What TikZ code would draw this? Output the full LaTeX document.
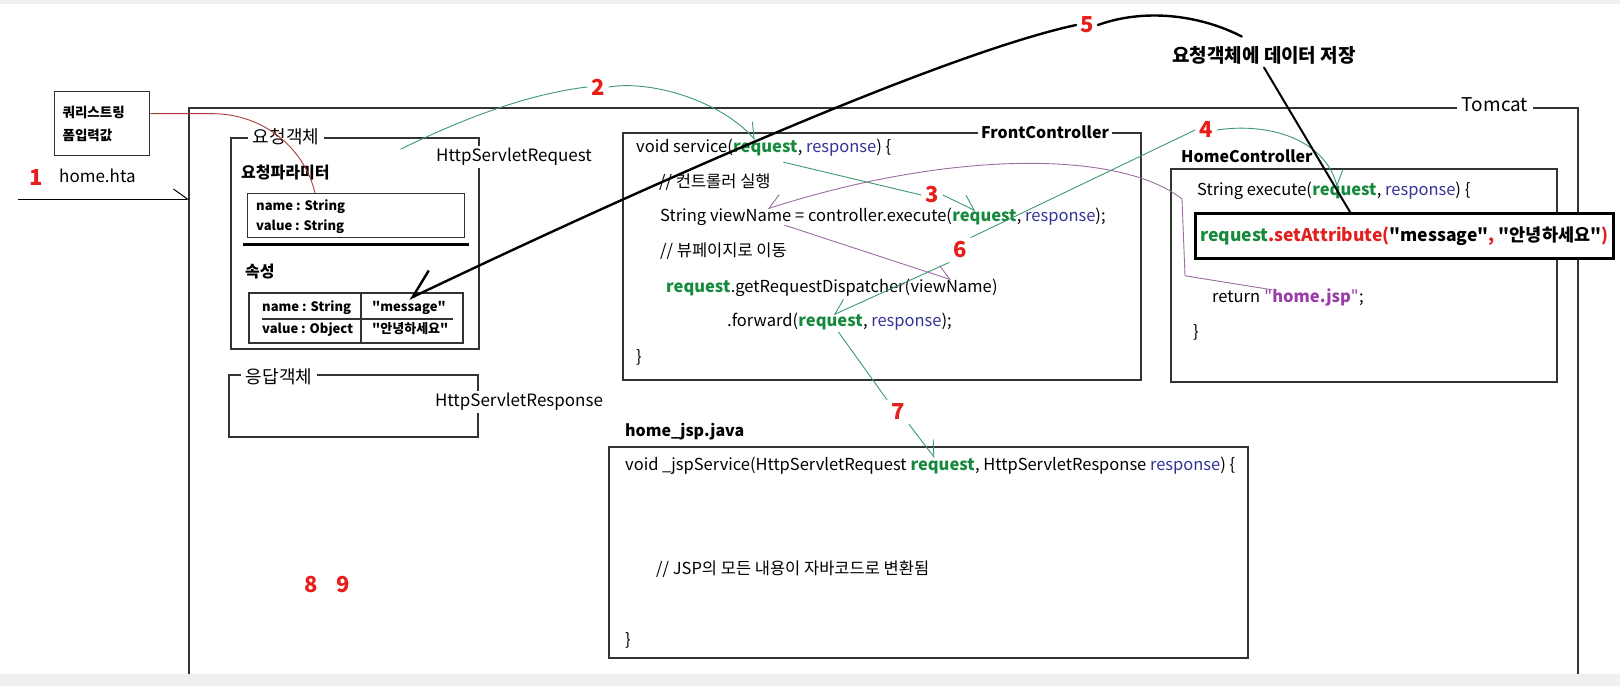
\documentclass[tikz,border=0pt]{standalone}
\usepackage{fontspec}
\setmainfont{Noto Sans CJK KR}[Ligatures=TeXOff]
\usetikzlibrary{arrows.meta,positioning,calc}
\definecolor{reqGreen}{RGB}{22,138,60}
\definecolor{resBlue}{RGB}{52,52,150}
\definecolor{numRed}{RGB}{232,30,26}
\definecolor{attrRed}{RGB}{226,32,32}
\definecolor{jspPurple}{RGB}{152,62,166}
\definecolor{linkGreen}{RGB}{60,152,118}
\definecolor{linkPurple}{RGB}{156,110,162}
\definecolor{linkRed}{RGB}{176,60,60}
\definecolor{frameGray}{RGB}{50,50,50}
\definecolor{bandGray}{RGB}{240,240,240}
\newcommand{\codefont}{\fontsize{16.5}{20}\selectfont}
\newcommand{\labelfont}{\fontsize{17}{20}\selectfont}
\newcommand{\boxtitlefont}{\fontsize{18}{22}\selectfont}
\newcommand{\headfont}{\fontsize{16}{20}\selectfont\bfseries}
\newcommand{\cellfont}{\fontsize{13}{16}\selectfont\bfseries}
\newcommand{\numfont}{\fontsize{22}{24}\selectfont\bfseries}
\newcommand{\reqword}{\textcolor{reqGreen}{\textbf{request}}}
\newcommand{\resword}{\textcolor{resBlue}{response}}

\begin{document}
\begin{tikzpicture}[x=1pt, y=-1pt,
  frame/.style={draw=frameGray, line width=1.3pt},
  code/.style={anchor=west, inner sep=0pt, text height=12pt, text depth=4pt, font=\codefont},
  title/.style={fill=white, inner xsep=5pt, inner ysep=2pt},
  num/.style={text=numRed, font=\numfont, inner sep=4pt},
  glink/.style={draw=linkGreen, line width=0.9pt, line cap=round},
  plink/.style={draw=linkPurple, line width=0.9pt, line cap=round},
  tipl/.style={-{Straight Barb[harpoon, length=14pt, width=20pt]}},
  tipr/.style={-{Straight Barb[harpoon, swap, length=14pt, width=20pt]}}
]
  \useasboundingbox (0,0) rectangle (1620,686);
  \fill[white] (0,0) rectangle (1620,686);
  \fill[bandGray] (0,0) rectangle (1620,4);

  \draw[frame] (189,674) -- (189,108) -- (1578,108) -- (1578,674);
  \node[title, font=\fontsize{19}{22}\selectfont] (tomcat) at (1495,105) {Tomcat};

  \node[frame, anchor=north west, minimum width=95pt, minimum height=64pt, text width=79pt,
        inner xsep=8pt, align=left, font=\fontsize{13.5}{23}\selectfont\bfseries] (qbox) at (54,91) {쿼리스트링\\폼입력값};
  \node[num] (one) at (36,178) {1};
  \node[code, font=\labelfont] (hta) at (59,178) {home.hta};
  \coordinate (htastart) at (18,199);
  \coordinate (htaend) at (189,199);

  \draw[frame] (231,138) rectangle (479,349);
  \node[title, font=\boxtitlefont] (reqobj) at (286,137) {요청객체};
  \node[title, inner xsep=1pt, font=\labelfont] (reqhttp) at (514,157) {HttpServletRequest};
  \node[code, font=\headfont] (paramhead) at (241,174) {요청파라미터};
  \node[frame, anchor=north west, minimum width=217pt, minimum height=44pt] (parambox) at (247,193) {};
  \node[code, font=\cellfont] (pname) at (256,206) {name : String};
  \node[code, font=\cellfont] (pvalue) at (256,226) {value : String};
  \draw[line width=3pt] (243,244) -- (469,244);
  \node[code, font=\headfont] (attrhead) at (245,273) {속성};
  \draw[frame] (249,293) rectangle (463,343);
  \draw[frame] (361,293) -- (361,343);
  \draw[frame] (262,319) -- (453,319);
  \node[code, font=\cellfont] (aname) at (262,307) {name : String};
  \node[code, font=\cellfont] (avalue) at (262,329) {value : Object};
  \node[code, font=\cellfont] (attrmsg) at (372,307) {"message"};
  \node[code, font=\cellfont] (attrhello) at (372,329) {"안녕하세요"};

  \draw[frame] (229,375) rectangle (478,437);
  \node[title, font=\boxtitlefont] (resobj) at (279,377) {응답객체};
  \node[title, inner xsep=1pt, font=\labelfont] (reshttp) at (519,402) {HttpServletResponse};
  \node[num] (eight) at (311,585) {8};
  \node[num] (nine) at (343,585) {9};

  \draw[frame] (623,133) rectangle (1141,380);
  \node[title, inner xsep=3pt, font=\headfont] (fctitle) at (1045,132) {FrontController};
  \node[code] (svc) at (636,148) {void service(};
  \node[code, right=0pt of svc] (svcreq) {\reqword};
  \node[code, right=0pt of svcreq] (svcres) {, \resword) \{};
  \node[code] (cmtrun) at (659,183) {// 컨트롤러 실행};
  \node[code] (exe) at (660,217) {String};
  \node[code, right=3.5pt of exe] (execvn) {viewName};
  \node[code, right=3.5pt of execvn] (exemid) {= controller.execute(};
  \node[code, right=0pt of exemid] (execreq) {\reqword};
  \node[code, right=0pt of execreq] (exeres) {, \resword);};
  \node[code] (cmtview) at (660,252) {// 뷰페이지로 이동};
  \node[code] (disreq) at (666,288) {\reqword};
  \node[code, right=0pt of disreq] (dismid) {.getRequestDispatcher(};
  \node[code, right=0pt of dismid] (dispvn) {viewName};
  \node[code, right=0pt of dispvn] (disend) {)};
  \node[code] (fwd) at (727,322) {.forward(};
  \node[code, right=0pt of fwd] (fwdreq) {\reqword};
  \node[code, right=0pt of fwdreq] (fwdres) {, \resword);};
  \node[code] (fcend) at (636,358) {\}};

  \draw[frame] (1171,169) rectangle (1557,382);
  \node[code, font=\headfont] (hctitle) at (1181,158) {HomeController};
  \node[code] (hcexe) at (1197,191) {String execute(};
  \node[code, right=0pt of hcexe] (hcreq) {\reqword};
  \node[code, right=0pt of hcreq] (hcres) {, \resword) \{};
  \node[draw, line width=3pt, fill=white, anchor=north west, minimum width=418pt, minimum height=45pt,
        inner sep=0pt, font=\fontsize{17.5}{20}\selectfont\bfseries] (setattr) at (1194,212)
        {\textcolor{reqGreen}{request}\textcolor{attrRed}{.setAttribute(}"message"\textcolor{attrRed}{, }"안녕하세요"\textcolor{attrRed}{)}};
  \node[code] (hcret) at (1212,298) {return};
  \node[code, right=4pt of hcret] (hjsp) {\textcolor{jspPurple}{"\textbf{home.jsp}"}};
  \node[code, right=0pt of hjsp] (hcsemi) {;};
  \node[code] (hcend) at (1193,333) {\}};

  \node[code, font=\headfont] (jsptitle) at (625,432) {home\_jsp.java};
  \draw[frame] (609,447) rectangle (1248,658);
  \node[code] (jspsvc) at (625,466) {void \_jspService(HttpServletRequest};
  \node[code, right=3.5pt of jspsvc] (jspreq) {\reqword};
  \node[code, right=0pt of jspreq] (jspres) {, HttpServletResponse \resword) \{};
  \node[code] (jspcmt) at (656,570) {// JSP의 모든 내용이 자바코드로 변환됨};
  \node[code] (jspend) at (625,641) {\}};

  \node[num] (two) at (598,87) {2};
  \node[num] (three) at (932,195) {3};
  \node[num] (four) at (1206,130) {4};
  \node[num] (five) at (1087,25) {5};
  \node[num] (six) at (960,250) {6};
  \node[num] (seven) at (898,412) {7};
  \node[font=\fontsize{19}{22}\selectfont\bfseries] (storelbl) at (1264,55) {요청객체에 데이터 저장};

  \fill[bandGray] (0,674) rectangle (1620,686);

  \draw[line width=1pt, tipl] (htastart) -- (htaend);
  \draw[draw=linkRed, line width=0.9pt] ($(qbox.east)+(0,-10)$) -- ++(60,0)
    .. controls (265,113) and (305,150) .. ($(parambox.north west)+(68,0)$);
  \draw[glink] ($(reqhttp.west)+(-34,-8)$) .. controls (450,125) and (520,95) .. (two.west);
  \draw[glink, tipl] (two.east) .. controls (650,80) and (720,100) .. ($(svcreq.north west)+(22,0)$);
  \draw[glink] ($(svcreq.south east)+(-14,6)$) -- (three.west);
  \draw[glink, tipl] (three.east) -- ($(execreq.north)+(-9,2)$);
  \draw[glink] (six.north east) -- (four.west);
  \draw[glink, tipl] (four.east) .. controls (1270,122) and (1325,140) .. ($(hcreq.north west)+(25,4)$);
  \draw[glink, tipr] (six.south west) -- ($(fwdreq.north)+(3,1)$);
  \draw[glink] ($(fwdreq.south)+(8,2)$) -- (seven.north west);
  \draw[glink, tipl] (seven.south east) -- ($(jspreq.north)+(-8,0)$);
  \draw[plink, tipr] ($(hjsp.north west)+(8,0)$) -- ($(hcexe.west |- hcret.north)+(-12,-14)$)
    -- ($(hcexe.west)+(-15,8)$)
    .. controls (1120,150) and (950,150) .. ($(execvn.north)+(17,0)$);
  \draw[plink, tipl] ($(execvn.south)+(34,0)$) -- (dispvn.north);
  \draw[line width=2pt, line cap=round] (storelbl.south) -- ($(setattr.north west)+(156,0)$);
  \draw[line width=2.4pt, line cap=round] (five.east) .. controls (1145,8) and (1200,15) .. ($(storelbl.north west)+(73,-6)$);
  \draw[line width=2.4pt, line cap=round, -{Straight Barb[harpoon, swap, length=26pt, width=34pt]}]
    (five.west) .. controls (960,50) and (700,160) .. (attrmsg.north);
\end{tikzpicture}
\end{document}
